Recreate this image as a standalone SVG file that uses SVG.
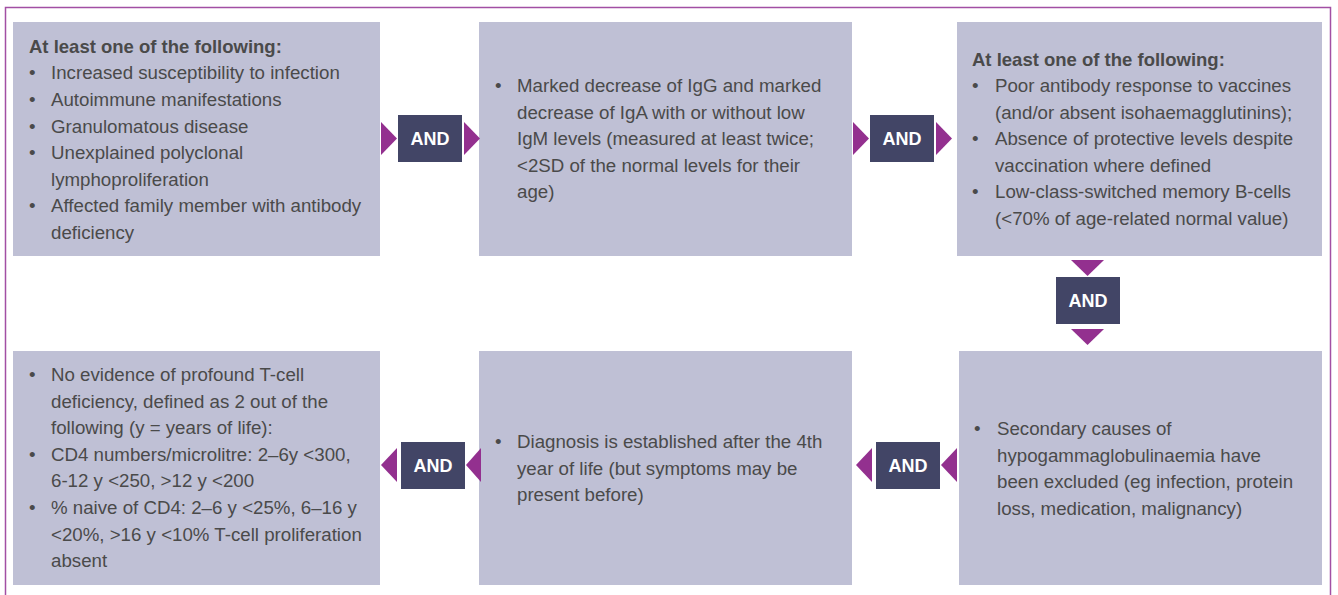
<svg xmlns="http://www.w3.org/2000/svg" width="1338" height="595" viewBox="0 0 1338 595">
  <style>
    .frame { fill: none; stroke: #a24fa4; stroke-width: 1.5; }
    .box { fill: #bfc0d5; }
    .and { fill: #424566; }
    .arrow { fill: #93308f; }
    .t { font-family: "Liberation Sans", Arial, sans-serif; font-size: 18.7px; fill: #4a4a4a; }
    .h { font-weight: bold; font-size: 18.5px; }
    .lbl { font-family: "Liberation Sans", Arial, sans-serif; font-size: 18px; font-weight: bold; fill: #ffffff; text-anchor: middle; }
  </style>

  <rect class="frame" x="5.5" y="7.5" width="1325" height="620"/>

  <!-- Criterion 1: clinical features -->
  <g id="clinical">
    <rect class="box" x="13" y="22" width="367" height="234"/>
    <text class="t h" x="29" y="52.7">At least one of the following:</text>
    <text class="t" x="29" y="79.3">•</text>
    <text class="t" x="51" y="79.3">Increased susceptibility to infection</text>
    <text class="t" x="29" y="105.9">•</text>
    <text class="t" x="51" y="105.9">Autoimmune manifestations</text>
    <text class="t" x="29" y="132.5">•</text>
    <text class="t" x="51" y="132.5">Granulomatous disease</text>
    <text class="t" x="29" y="159.1">•</text>
    <text class="t" x="51" y="159.1">Unexplained polyclonal</text>
    <text class="t" x="51" y="185.7">lymphoproliferation</text>
    <text class="t" x="29" y="212.3">•</text>
    <text class="t" x="51" y="212.3">Affected family member with antibody</text>
    <text class="t" x="51" y="238.9">deficiency</text>
  </g>

  <!-- Criterion 2: immunoglobulin levels -->
  <g id="immunoglobulins">
    <rect class="box" x="479" y="22" width="373" height="234"/>
    <text class="t" x="495" y="92">•</text>
    <text class="t" x="517" y="92">Marked decrease of IgG and marked</text>
    <text class="t" x="517" y="118.6">decrease of IgA with or without low</text>
    <text class="t" x="517" y="145.2">IgM levels (measured at least twice;</text>
    <text class="t" x="517" y="171.8">&lt;2SD of the normal levels for their</text>
    <text class="t" x="517" y="198.4">age)</text>
  </g>

  <!-- Criterion 3: antibody response -->
  <g id="antibody-response">
    <rect class="box" x="957" y="22" width="365" height="234"/>
    <text class="t h" x="972" y="66">At least one of the following:</text>
    <text class="t" x="972" y="92">•</text>
    <text class="t" x="995" y="92">Poor antibody response to vaccines</text>
    <text class="t" x="995" y="118.6">(and/or absent isohaemagglutinins);</text>
    <text class="t" x="972" y="145.2">•</text>
    <text class="t" x="995" y="145.2">Absence of protective levels despite</text>
    <text class="t" x="995" y="171.8">vaccination where defined</text>
    <text class="t" x="972" y="198.4">•</text>
    <text class="t" x="995" y="198.4">Low-class-switched memory B-cells</text>
    <text class="t" x="995" y="225">(&lt;70% of age-related normal value)</text>
  </g>

  <!-- Criterion 4: secondary causes excluded -->
  <g id="secondary-causes">
    <rect class="box" x="959" y="351" width="363" height="234"/>
    <text class="t" x="974" y="435">•</text>
    <text class="t" x="997" y="435">Secondary causes of</text>
    <text class="t" x="997" y="461.6">hypogammaglobulinaemia have</text>
    <text class="t" x="997" y="488.2">been excluded (eg infection, protein</text>
    <text class="t" x="997" y="514.8">loss, medication, malignancy)</text>
  </g>

  <!-- Criterion 5: age at diagnosis -->
  <g id="age-of-diagnosis">
    <rect class="box" x="479" y="351" width="373" height="234"/>
    <text class="t" x="495" y="448.2">•</text>
    <text class="t" x="517" y="448.2">Diagnosis is established after the 4th</text>
    <text class="t" x="517" y="474.8">year of life (but symptoms may be</text>
    <text class="t" x="517" y="501.4">present before)</text>
  </g>

  <!-- Criterion 6: T-cell deficiency absent -->
  <g id="t-cell">
    <rect class="box" x="13" y="351" width="367" height="234"/>
    <text class="t" x="29" y="381">•</text>
    <text class="t" x="51" y="381">No evidence of profound T-cell</text>
    <text class="t" x="51" y="407.6">deficiency, defined as 2 out of the</text>
    <text class="t" x="51" y="434.2">following (y = years of life):</text>
    <text class="t" x="29" y="460.8">•</text>
    <text class="t" x="51" y="460.8">CD4 numbers/microlitre: 2–6y &lt;300,</text>
    <text class="t" x="51" y="487.4">6-12 y &lt;250, &gt;12 y &lt;200</text>
    <text class="t" x="29" y="514">•</text>
    <text class="t" x="51" y="514">% naive of CD4: 2–6 y &lt;25%, 6–16 y</text>
    <text class="t" x="51" y="540.6">&lt;20%, &gt;16 y &lt;10% T-cell proliferation</text>
    <text class="t" x="51" y="567.2">absent</text>
  </g>

  <!-- AND connectors between criteria -->
  <g id="connectors">
    <g id="and-1-2">
      <polygon class="arrow" points="381,122 397,138.5 381,155"/>
      <rect class="and" x="398" y="115" width="64" height="47"/>
      <text class="lbl" x="430" y="145">AND</text>
      <polygon class="arrow" points="464,122 480,138.5 464,155"/>
    </g>
    <g id="and-2-3">
      <polygon class="arrow" points="853,122 869,138.5 853,155"/>
      <rect class="and" x="870" y="115" width="64" height="47"/>
      <text class="lbl" x="902" y="145">AND</text>
      <polygon class="arrow" points="936,122 952,138.5 936,155"/>
    </g>
    <g id="and-3-4">
      <polygon class="arrow" points="1071,260 1104,260 1087.5,276"/>
      <rect class="and" x="1056" y="277" width="64" height="47"/>
      <text class="lbl" x="1088" y="307">AND</text>
      <polygon class="arrow" points="1071,329 1104,329 1087.5,345"/>
    </g>
    <g id="and-4-5">
      <polygon class="arrow" points="957,448 941,465 957,482"/>
      <rect class="and" x="876" y="442" width="64" height="47"/>
      <text class="lbl" x="908" y="472">AND</text>
      <polygon class="arrow" points="872,448 856,465 872,482"/>
    </g>
    <g id="and-5-6">
      <polygon class="arrow" points="481,448 466,465 481,482"/>
      <rect class="and" x="401" y="442" width="64" height="47"/>
      <text class="lbl" x="433" y="472">AND</text>
      <polygon class="arrow" points="397,448 381,465 397,482"/>
    </g>
  </g>
</svg>
